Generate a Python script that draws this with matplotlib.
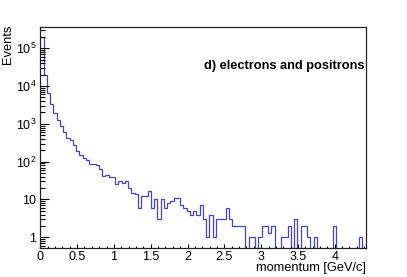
import matplotlib
matplotlib.use("Agg")
import matplotlib.pyplot as plt
import numpy as np
from matplotlib.ticker import MultipleLocator, LogLocator, FuncFormatter, NullFormatter

plt.rcParams['font.family'] = ['Liberation Sans', 'DejaVu Sans']
plt.rcParams['mathtext.fontset'] = 'custom'
plt.rcParams['mathtext.rm'] = 'Liberation Sans'

# histogram: 100 bins of momentum, counts
x_min, x_max = 0.0, 4.42
counts = [
    2.0e5, 1.95e4, 6.4e3, 3.3e3, 1.9e3, 1.25e3, 860, 610, 430, 370,
    276, 193, 150, 127, 109, 88, 85, 84, 63, 42,
    44, 40, 40, 26, 30, 28, 31, 20, 15, 14,
    6, 12, 12, 17, 6, 10, 3, 10, 6, 8,
    9, 11, 11, 7, 6, 5, 4, 5, 4, 7,
    3, 1, 4, 1, 3, 3, 3, 6, 3, 2,
    2, 2, 2, 0, 1, 1, 0, 1, 2, 2,
    1.3, 2, 0, 0, 1, 1, 2, 0, 3, 0,
    2, 2, 1, 0, 1, 0, 0, 0, 0, 0,
    2, 0, 0, 0, 0, 0, 0, 0, 1, 0,
]
x_label = "momentum [GeV/c]"
y_label = "Events"
panel_title = "d) electrons and positrons"

edges = np.linspace(x_min, x_max, len(counts) + 1)
vals = np.asarray(counts, dtype=float)
y_lo, y_hi = 0.53, 3.66e5

fig = plt.figure(figsize=(4.07, 2.77), dpi=100)
ax = fig.add_axes([0.099, 0.1058, 0.7995, 0.7968])
ax.set_yscale('log', nonpositive='clip')

# empty bins drop below the frame like ROOT does
draw_vals = np.where(vals > 0, vals, y_lo * 1e-3)
ax.stairs(draw_vals, edges, baseline=None, color='#4444c4', linewidth=0.9)

ax.set_xlim(x_min, x_max)
ax.set_ylim(y_lo, y_hi)

ax.xaxis.set_major_locator(MultipleLocator(0.5))
ax.xaxis.set_minor_locator(MultipleLocator(0.1))
ax.xaxis.set_major_formatter(FuncFormatter(lambda v, p: f"{v:g}"))
ax.yaxis.set_major_locator(LogLocator(base=10, numticks=10))
ax.yaxis.set_minor_locator(LogLocator(base=10, subs=np.arange(2, 10), numticks=20))
ax.yaxis.set_minor_formatter(NullFormatter())


def log_fmt(v, p):
    n = int(round(np.log10(v)))
    if n == 0:
        return "1"
    if n == 1:
        return "10"
    return r"$10^{%d}$" % n


ax.yaxis.set_major_formatter(FuncFormatter(log_fmt))

ax.tick_params(axis='x', which='major', direction='in', length=3.2, width=0.8, pad=2.5, labelsize=9)
ax.tick_params(axis='x', which='minor', direction='in', length=1.6, width=0.8)
ax.tick_params(axis='y', which='major', direction='in', length=6.8, width=0.8, pad=3, labelsize=9)
ax.tick_params(axis='y', which='minor', direction='in', length=3.4, width=0.8)
ax.tick_params(top=False, right=False, which='both')
for spine in ax.spines.values():
    spine.set_linewidth(0.9)
    spine.set_color('#222222')

fig.text(8 / 407, 1 - 25 / 277, y_label, rotation=90, ha='center', va='top', fontsize=9.3)
fig.text(365.5 / 407, 1 - 268 / 277, x_label, ha='right', va='center', fontsize=9.2)
fig.text(364 / 407, 1 - 65.7 / 277, panel_title, ha='right', va='center', fontsize=9.2, fontweight='bold')

fig.savefig('out.png', dpi=100)
